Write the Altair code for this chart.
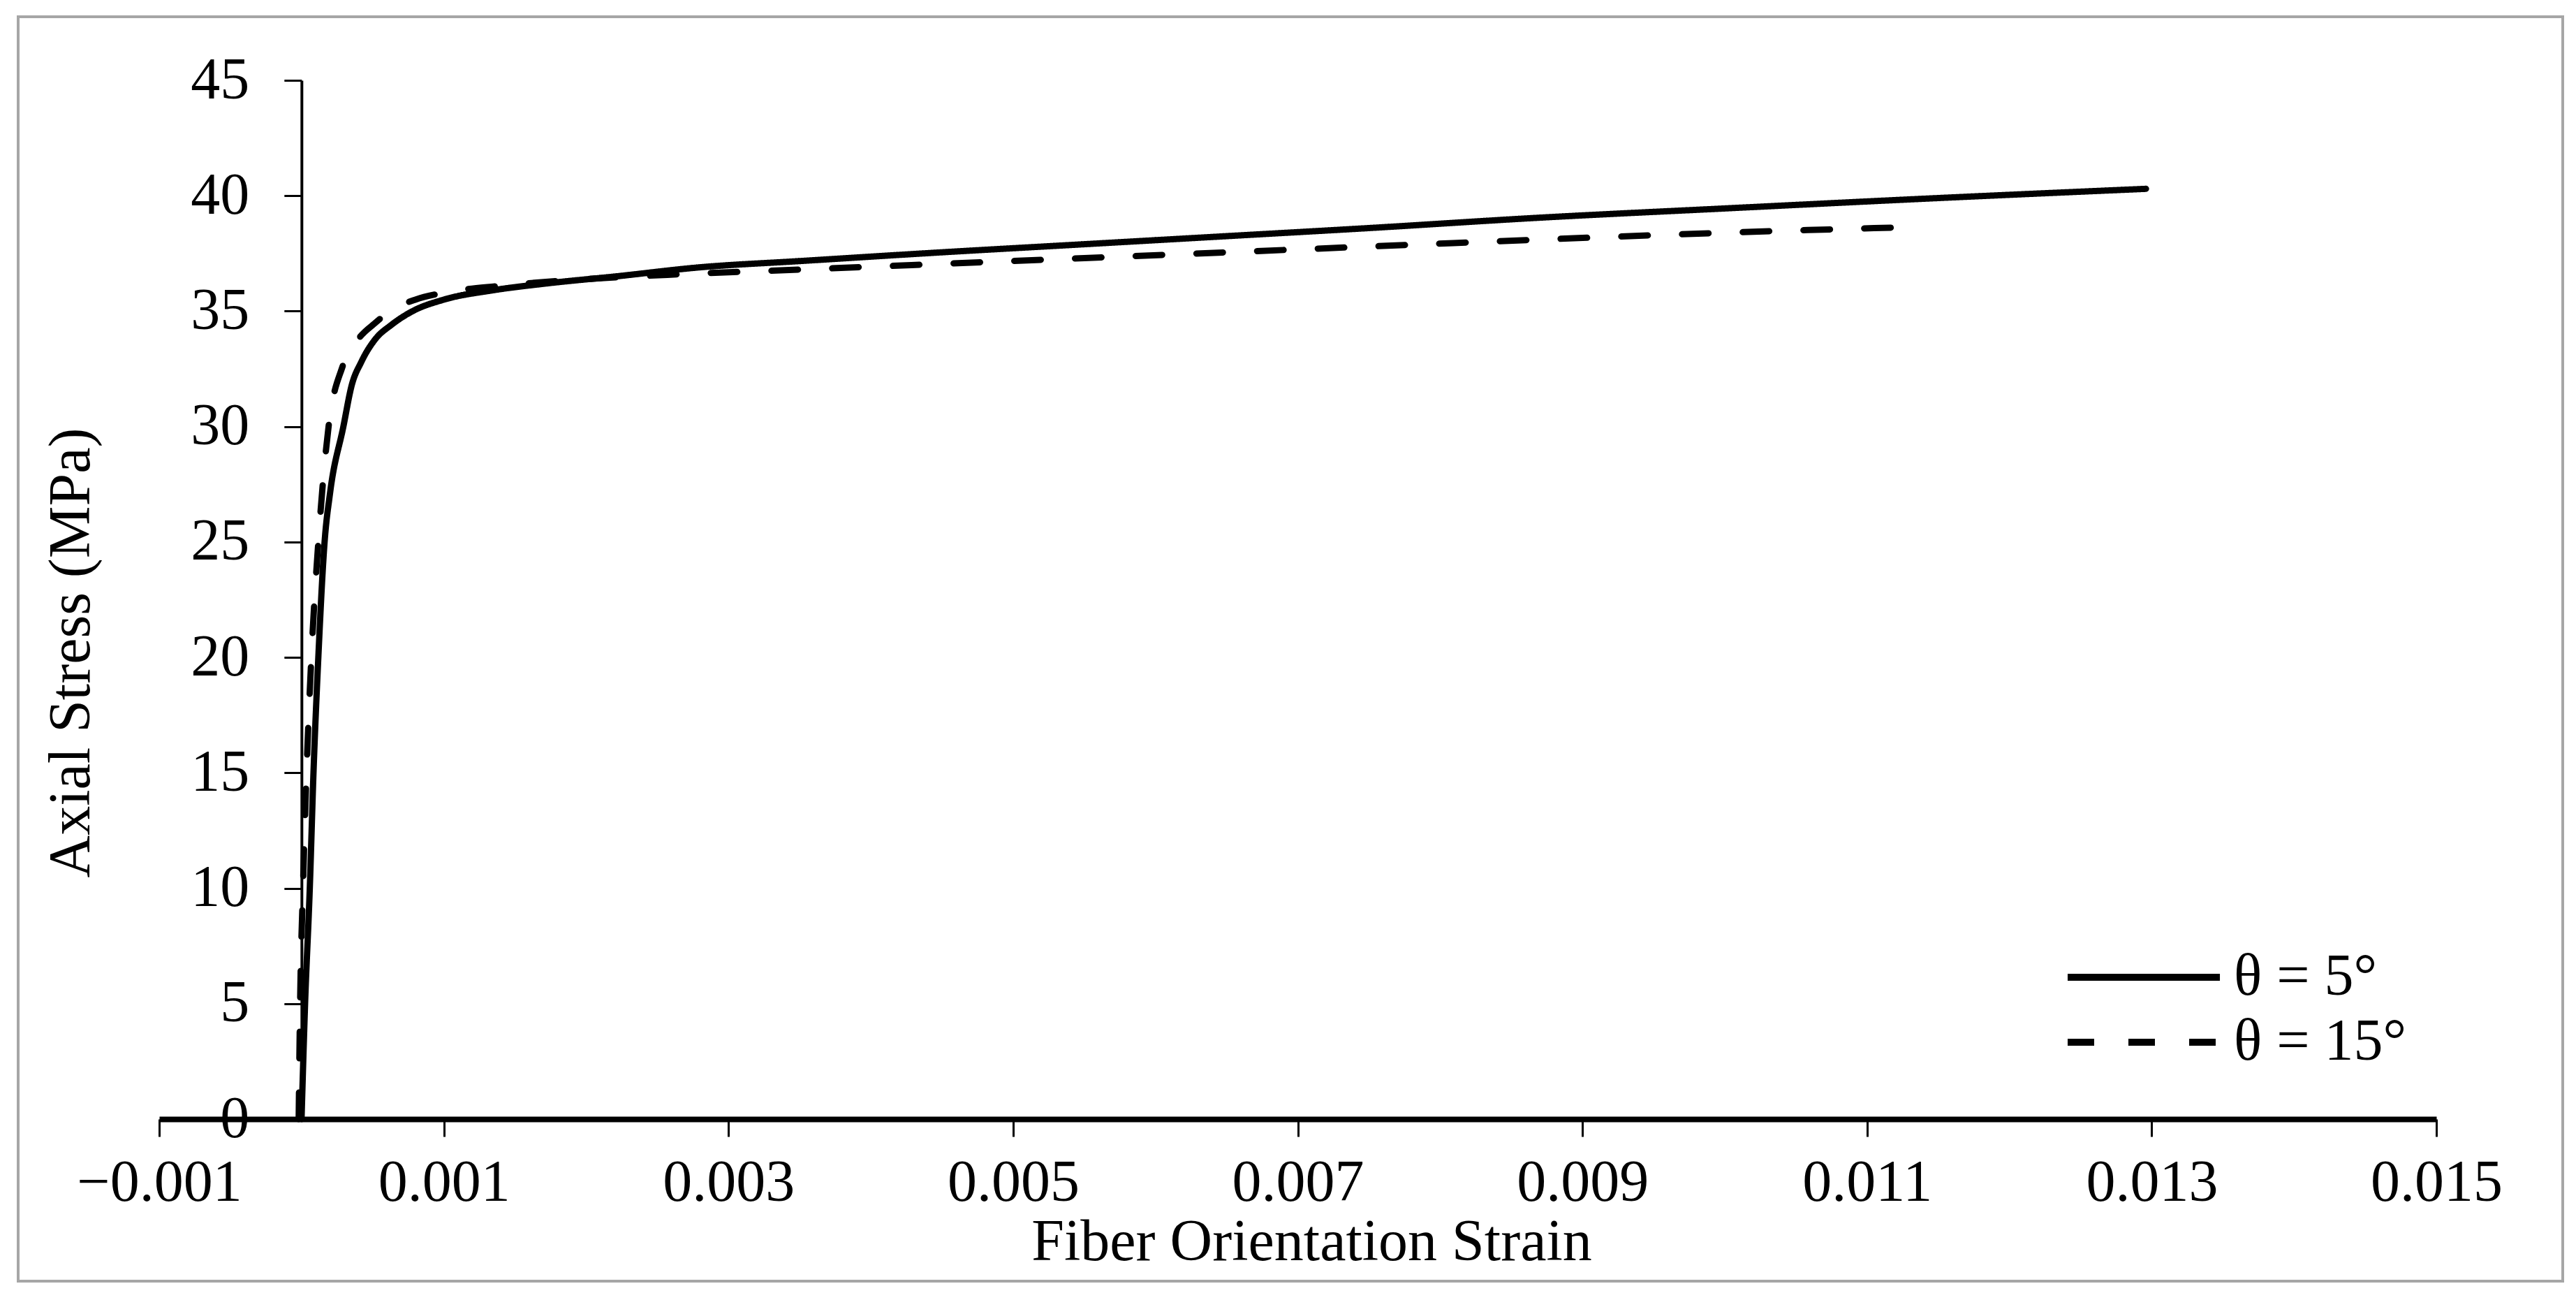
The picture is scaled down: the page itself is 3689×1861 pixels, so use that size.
import altair as alt
import pandas as pd

# ---- data ----
series_names = ["θ = 5°", "θ = 15°"]

strain_5 = [0.0, 0.000025, 0.000058, 0.000084, 0.000118, 0.000162, 0.000200, 0.000294,
            0.000353, 0.00042, 0.00052, 0.00063, 0.00078, 0.00100, 0.00134, 0.00172,
            0.00220, 0.00280, 0.0035, 0.0045, 0.0055, 0.0065, 0.0075, 0.0087, 0.0100,
            0.0115, 0.01296]
stress_5 = [0.0, 5.0, 10.0, 15.0, 20.0, 25.0, 27.1, 30.0, 31.8, 32.8, 33.8, 34.4, 35.0,
            35.5, 35.9, 36.2, 36.5, 36.9, 37.17, 37.55, 37.9, 38.25, 38.6, 39.05, 39.45,
            39.9, 40.3]

strain_15 = [-0.00002, -0.00001, 0.00001, 0.000035, 0.000069, 0.000118, 0.00019, 0.000288,
             0.00040, 0.00052, 0.00062, 0.00080, 0.00100, 0.00140, 0.00190, 0.00266,
             0.0035, 0.0045, 0.0055, 0.0065, 0.0075, 0.0087, 0.0100, 0.01135]
stress_15 = [0.0, 5.0, 10.0, 15.0, 20.0, 25.0, 30.0, 32.6, 33.8, 34.5, 35.0, 35.5, 35.8,
             36.1, 36.35, 36.6, 36.8, 37.05, 37.3, 37.55, 37.8, 38.1, 38.4, 38.65]

x_ticks = [-0.001, 0.001, 0.003, 0.005, 0.007, 0.009, 0.011, 0.013, 0.015]
y_ticks = [0, 5, 10, 15, 20, 25, 30, 35, 40, 45]

# ---- layout ----
W, H = 3261, 1487
x_min, x_max = -0.001, 0.015
y_min, y_max = 0, 45
y_axis_offset = -W * (0 - x_min) / (x_max - x_min)  # y axis sits at strain = 0
FONT = "Liberation Serif"
FS = 84
SYM = 92  # legend symbol unit; the drawn line spans 2.37 units

rows = []
for i, (s, t) in enumerate(zip(strain_5, stress_5)):
    rows.append({"series": series_names[0], "strain": s, "stress": t, "idx": i})
for i, (s, t) in enumerate(zip(strain_15, stress_15)):
    rows.append({"series": series_names[1], "strain": s, "stress": t, "idx": i})
df = pd.DataFrame(rows)

lines = alt.Chart(df).mark_line(
    strokeWidth=9, strokeCap="round", strokeJoin="round", color="black",
    interpolate="monotone",
).encode(
    x=alt.X(
        "strain:Q",
        scale=alt.Scale(domain=[x_min, x_max], nice=False, zero=False),
        axis=alt.Axis(
            values=x_ticks, format=".3f", title="Fiber Orientation Strain",
            grid=False, domainColor="black", domainWidth=8,
            tickColor="black", tickWidth=3, tickSize=25,
            labelFont=FONT, labelFontSize=FS, labelColor="black", labelPadding=25,
            labelFlush=False, labelOverlap=False, labelLimit=1000,
            titleFont=FONT, titleFontSize=FS, titleFontWeight="normal", titleColor="black",
            titleX=1650, titleY=201, titleAlign="center", titleBaseline="alphabetic",
        ),
    ),
    y=alt.Y(
        "stress:Q",
        scale=alt.Scale(domain=[y_min, y_max], nice=False),
        axis=alt.Axis(
            values=y_ticks, offset=y_axis_offset, title="Axial Stress (MPa)",
            grid=False, domainColor="black", domainWidth=4,
            tickColor="black", tickWidth=3, tickSize=25,
            labelFont=FONT, labelFontSize=FS, labelColor="black", labelPadding=50,
            labelOverlap=False, labelFlush=False, labelLimit=1000,
            titleFont=FONT, titleFontSize=FS, titleFontWeight="normal", titleColor="black",
            titleAngle=270, titleX=-304, titleY=819, titleAlign="center",
            titleBaseline="alphabetic", titleLimit=2000,
        ),
    ),
    strokeDash=alt.StrokeDash(
        "series:N",
        scale=alt.Scale(domain=series_names, range=[[1, 0], [38, 49]]),
        legend=alt.Legend(
            title=None, orient="none", legendX=2728, legendY=1233,
            symbolType="M-1,0H3.74", symbolSize=SYM * SYM, symbolStrokeWidth=10,
            symbolStrokeColor="black", symbolFillColor="transparent",
            labelFont=FONT, labelFontSize=FS,
            labelColor="black", labelOffset=141, rowPadding=0, padding=0,
            labelLimit=1000,
        ),
    ),
    order="idx:Q",
)

frame = alt.Chart(pd.DataFrame({"f": [0]})).mark_rect(
    fillOpacity=0, stroke="#a6a6a6", strokeWidth=4
).encode(
    x=alt.value(-202), x2=alt.value(3442), y=alt.value(-91), y2=alt.value(1719)
)

chart = alt.layer(frame, lines).properties(
    width=W, height=H,
    autosize=alt.AutoSizeParams(type="none"),
    padding={"left": 220, "top": 107, "right": 185, "bottom": 243},
    background="white",
).configure_view(stroke=None)

chart.save("out.html", embed_options={"renderer": "svg", "actions": False})
